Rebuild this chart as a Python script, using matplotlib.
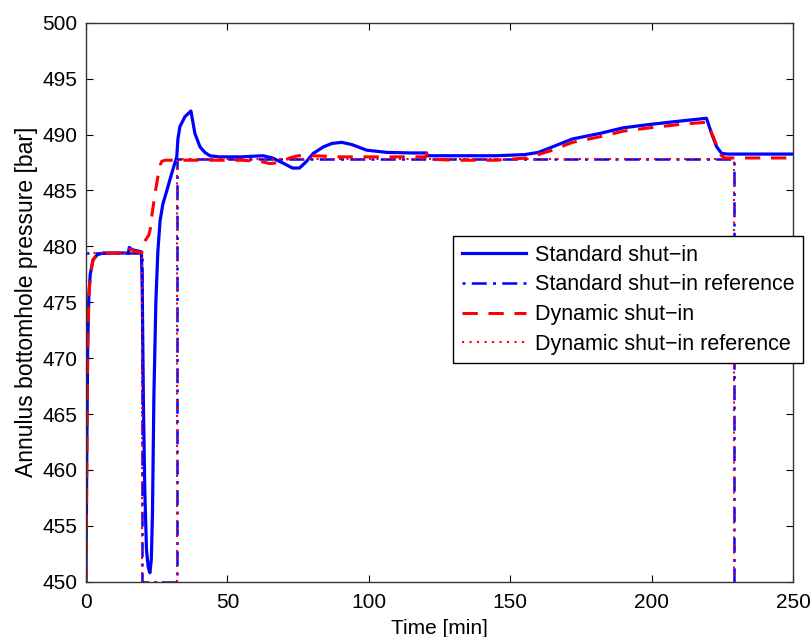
import matplotlib
matplotlib.use("Agg")
import matplotlib.pyplot as plt

plt.rcParams['font.family'] = ['Liberation Sans', 'DejaVu Sans']

# Standard shut-in (blue solid)
std_t = [0, 0.3, 0.6, 1.0, 1.5, 2.5, 4, 6, 15, 15.3, 16.3, 19.6, 19.9, 20.3, 20.8, 21.4, 22.0, 22.6,
         23.1, 23.5, 24.0, 24.7, 25.4, 26.2, 27.2, 28.6, 30.4, 32.1, 32.5, 33.2, 35, 37.1, 38.5, 40.3,
         42, 43.8, 47, 55, 62.6, 66, 70, 73, 75.5, 78, 80.3, 84, 87, 90.4, 94, 99.2, 106.3, 115,
         120.4, 120.6, 130, 145, 155, 160, 165, 172, 181.8, 190, 199.4, 210, 219.4, 221.2, 223,
         224.8, 227, 250]
std_p = [450, 462, 471, 475.5, 477.5, 478.8, 479.25, 479.4, 479.4, 479.9, 479.7, 479.5, 476, 466,
         458, 452.8, 451.3, 450.8, 452, 456, 466.5, 475, 479.5, 482.3, 483.8, 485, 486.6, 488.0,
         489.6, 490.7, 491.6, 492.1, 490.1, 488.9, 488.4, 488.1, 488.0, 488.0, 488.1, 487.9, 487.4,
         487.0, 487.0, 487.6, 488.3, 488.9, 489.2, 489.3, 489.1, 488.6, 488.4, 488.35, 488.35,
         488.1, 488.1, 488.1, 488.2, 488.4, 488.9, 489.6, 490.1, 490.6, 490.9, 491.2, 491.45,
         490.1, 488.9, 488.3, 488.25, 488.25]

# Dynamic shut-in (red dashed)
dyn_t = [0, 0.3, 0.6, 1.0, 1.5, 2.5, 4, 6, 15, 15.4, 17, 19.7, 20.3, 20.9, 22.2, 22.7, 23.2, 24.4,
         25.6, 26.3, 26.8, 28, 40, 55, 61.5, 65, 68.6, 72, 75, 80.3, 90, 100, 110, 120.2, 120.5,
         121, 130, 145, 156, 165, 172, 181.8, 190, 199.4, 210, 219.4, 221.8, 224.2, 226, 250]
dyn_p = [450, 462, 471, 475.5, 477.5, 478.8, 479.25, 479.4, 479.4, 479.75, 479.6, 479.4, 480.2,
         480.5, 481.0, 481.5, 482.6, 484.7, 486.5, 487.3, 487.6, 487.7, 487.7, 487.7, 487.6, 487.4,
         487.5, 487.9, 488.1, 488.1, 488.0, 488.0, 488.0, 488.0, 488.3, 487.8, 487.7, 487.7, 487.9,
         488.6, 489.3, 489.8, 490.3, 490.6, 490.9, 491.1, 489.8, 488.2, 487.9, 487.9]

# references (both the same)
std_ref_t = [0, 19.8, 19.8, 32.2, 32.2, 229.1, 229.1]
std_ref_p = [479.4, 479.4, 450, 450, 487.85, 487.85, 450]
dyn_ref_t = [0, 19.8, 19.8, 32.2, 32.2, 229.1, 229.1]
dyn_ref_p = [479.4, 479.4, 450, 450, 487.85, 487.85, 450]

fig = plt.figure(figsize=(8.12, 6.37), dpi=100)
ax = fig.add_axes([86/812, 1 - 581.7/637, 707/812, 559/637])

ax.plot(std_t, std_p, color='blue', lw=2.3, label='Standard shut\u2212in')
ax.plot(std_ref_t, std_ref_p, color='blue', lw=1.8, dashes=(1.2, 2.5, 6, 2.5),
        label='Standard shut\u2212in reference')
ax.plot(dyn_t, dyn_p, color='red', lw=2.2, dashes=(5, 3.5), label='Dynamic shut\u2212in')
ax.plot(dyn_ref_t, dyn_ref_p, color='red', lw=1.5, dashes=(1, 2.6),
        label='Dynamic shut\u2212in reference')

ax.set_xlim(0, 250)
ax.set_ylim(450, 500)
ax.set_xticks([0, 50, 100, 150, 200, 250])
ax.set_yticks(range(450, 501, 5))
ax.tick_params(direction='in', length=5, labelsize=15, top=True, right=True)
ax.tick_params(axis='x', pad=8)
ax.tick_params(axis='y', pad=6)
for s in ax.spines.values():
    s.set_linewidth(1.0)
    s.set_color('#333333')

ax.set_xlabel('Time [min]', fontsize=15, labelpad=5)
ax.set_ylabel('Annulus bottomhole pressure [bar]', fontsize=16.5, labelpad=3)

leg = ax.legend(loc='upper left', bbox_to_anchor=(0.519, 0.618), borderaxespad=0,
                fontsize=15.5, handlelength=3.0, handletextpad=0.4, labelspacing=0.4,
                borderpad=0.4, fancybox=False, framealpha=1, edgecolor='black')
leg.get_frame().set_linewidth(1.0)

fig.savefig('out.png', dpi=100)
